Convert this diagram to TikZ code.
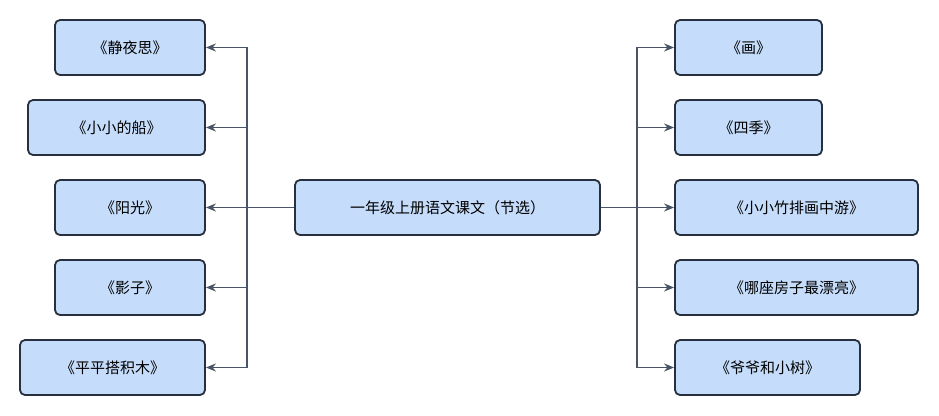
\documentclass[tikz,border=0pt]{standalone}
\usepackage{fontspec}
\newfontfamily\cjk{Noto Sans CJK SC}
\usetikzlibrary{arrows.meta}
\definecolor{boxfill}{RGB}{197,220,250}
\definecolor{boxline}{RGB}{40,48,64}
\definecolor{linkline}{RGB}{74,84,104}
\tikzset{
	lesson/.style={draw=boxline, fill=boxfill, line width=1.8pt, rounded corners=5pt,
		minimum height=55pt, inner sep=0pt, font=\cjk\fontsize{15pt}{17pt}\selectfont},
	link/.style={draw=linkline, line width=1.8pt, -{Stealth[length=10pt,width=8pt]}}
}
\begin{document}
\begin{tikzpicture}[x=1pt, y=-1pt]
	\useasboundingbox (0,0) rectangle (939,415);

	% centre
	\node[lesson, minimum width=305pt] (root) at (447.5,207.5) {一年级上册语文课文（节选）};

	% left side
	\node[lesson, minimum width=150pt] (l1) at (130,47.5) {《静夜思》};
	\node[lesson, minimum width=177pt] (l2) at (116.5,127.5) {《小小的船》};
	\node[lesson, minimum width=150pt] (l3) at (130,207.5) {《阳光》};
	\node[lesson, minimum width=150pt] (l4) at (130,287.5) {《影子》};
	\node[lesson, minimum width=185pt] (l5) at (112.5,367.5) {《平平搭积木》};

	% right side
	\node[lesson, minimum width=147pt] (r1) at (748.5,47.5) {《画》};
	\node[lesson, minimum width=147pt] (r2) at (748.5,127.5) {《四季》};
	\node[lesson, minimum width=243pt] (r3) at (796.5,207.5) {《小小竹排画中游》};
	\node[lesson, minimum width=243pt] (r4) at (796.5,287.5) {《哪座房子最漂亮》};
	\node[lesson, minimum width=185pt] (r5) at (767.5,367.5) {《爷爷和小树》};

	% trunks
	\coordinate (lt) at (247,207.5);
	\coordinate (rt) at (637,207.5);

	\foreach \n in {l1,l2,l3,l4,l5}
		\draw[link] (root.west) -- (lt) |- (\n.east);
	\foreach \n in {r1,r2,r3,r4,r5}
		\draw[link] (root.east) -- (rt) |- (\n.west);
\end{tikzpicture}
\end{document}
